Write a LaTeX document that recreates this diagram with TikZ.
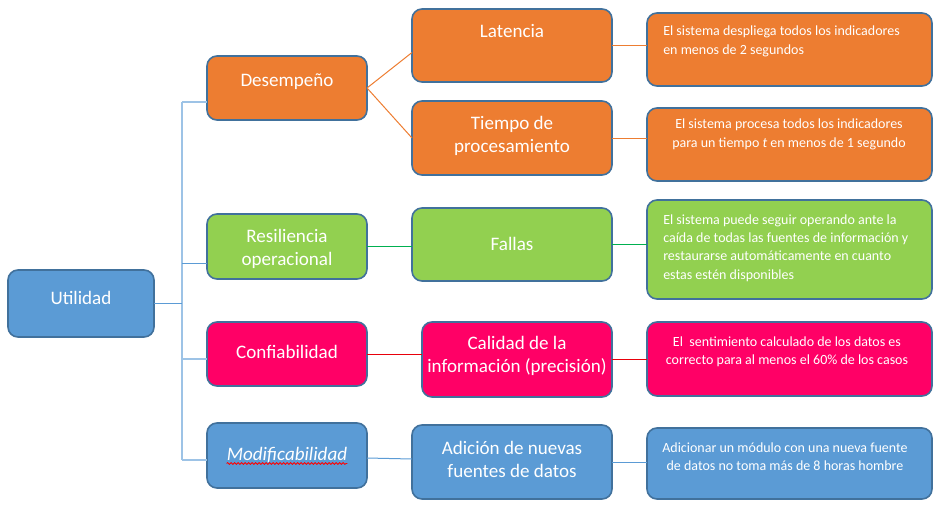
\documentclass[tikz,border=0pt]{standalone}
\usepackage{fontspec}
\setmainfont{Carlito}
\usetikzlibrary{calc,decorations.pathmorphing}
\def\px{0.75pt}
\newcommand\lblfont{\fontsize{14.3pt}{17.3pt}\selectfont}
\newcommand\smlfont{\fontsize{10.5pt}{13.8pt}\selectfont}
\definecolor{orng}{HTML}{ED7D31}
\definecolor{grn}{HTML}{92D050}
\definecolor{pnk}{HTML}{FF0066}
\definecolor{blu}{HTML}{5B9BD5}
\definecolor{bordc}{HTML}{41719C}
\definecolor{trunkc}{HTML}{9DC3E6}
\definecolor{lgreen}{HTML}{00B050}
\definecolor{lred}{HTML}{E8000B}
\tikzset{
  box/.style={draw=bordc, line width=1.6*\px, rounded corners=10*\px, inner sep=0pt, outer sep=0pt},
  lbl/.style={text=white, font=\lblfont, align=center, inner sep=0pt},
  sml/.style={text=white, font=\smlfont, inner sep=0pt},
  trunk/.style={draw=trunkc, line width=2*\px},
  trunkd/.style={draw=blu, line width=1.3*\px},
  conn/.style={line width=1*\px},
  wavy/.style={draw=red, line width=0.8*\px, decorate, decoration={snake, amplitude=0.9*\px, segment length=3.5*\px}}
}
\begin{document}
\begin{tikzpicture}[x=0.75pt,y=-0.75pt]
\useasboundingbox (0,0) rectangle (949,521);
% level 0
\node[box, fill=blu, minimum width=146*\px, minimum height=67*\px] (ut) at (81,303.5) {};
% level 1
\node[box, fill=orng, minimum width=160*\px, minimum height=64*\px] (des) at (287,88) {};
\node[box, fill=grn, minimum width=160*\px, minimum height=65*\px] (res) at (287,246.5) {};
\node[box, fill=pnk, minimum width=160*\px, minimum height=64*\px] (conf) at (287,354) {};
\node[box, fill=blu, minimum width=160*\px, minimum height=65*\px] (mod) at (287,455.5) {};
% level 2
\node[box, fill=orng, minimum width=200*\px, minimum height=73*\px] (lat) at (512,45.5) {};
\node[box, fill=orng, minimum width=200*\px, minimum height=74*\px] (tie) at (512,138) {};
\node[box, fill=grn, minimum width=200*\px, minimum height=73*\px] (fal) at (512,244.5) {};
\node[box, fill=pnk, minimum width=190*\px, minimum height=75*\px] (cal) at (517,359.5) {};
\node[box, fill=blu, minimum width=200*\px, minimum height=74*\px] (adi) at (512,462) {};
% level 3
\node[box, fill=orng, minimum width=285*\px, minimum height=73*\px] (r1) at (789.5,49.5) {};
\node[box, fill=orng, minimum width=285*\px, minimum height=73*\px] (r2) at (789.5,144.5) {};
\node[box, fill=grn, minimum width=285*\px, minimum height=99*\px] (r3) at (789.5,249.5) {};
\node[box, fill=pnk, minimum width=285*\px, minimum height=74*\px] (r4) at (789.5,359) {};
\node[box, fill=blu, minimum width=285*\px, minimum height=71*\px] (r5) at (789.5,463.5) {};
% texts
\node[lbl] (utt) at (81,298) {Utilidad};
\node[lbl] (dest) at (287,82) {Desempeño};
\node[lbl] (rest) at (287,248.5) {Resiliencia\\operacional};
\node[lbl] (conft) at (287,352) {Confiabilidad};
\node[lbl] (modt) at (287,455) {\itshape Modificabilidad};
\node[lbl] (latt) at (512,31) {Latencia};
\node[lbl] (tiet) at (512,135.5) {Tiempo de\\procesamiento};
\node[lbl] (falt) at (512,244) {Fallas};
\node[lbl] (calt) at (517,355.5) {Calidad de la\\información (precisión)};
\node[lbl] (adit) at (512,459.5) {Adición de nuevas\\fuentes de datos};
\node[sml, align=left, anchor=west] (r1t) at (663,41.5) {El sistema despliega todos los indicadores\\en menos de 2 segundos};
\node[sml, align=center] (r2t) at (789,134.5) {El sistema procesa todos los indicadores\\para un tiempo \textit{t} en menos de 1 segundo};
\node[sml, align=left, anchor=west] (r3t) at (663,248) {El sistema puede seguir operando ante la\\caída de todas las fuentes de información y\\restaurarse automáticamente en cuanto\\estas estén disponibles};
\node[sml, align=center] (r4t) at (787,351.5) {El\ \ sentimiento calculado de los datos es\\correcto para al menos el 60\% de los casos};
\node[sml, align=center] (r5t) at (785,456.5) {Adicionar un módulo con una nueva fuente\\de datos no toma más de 8 horas hombre};
\draw[wavy] ($(modt.base west)+(0,3)$) -- ($(modt.base east)+(0,3)$);
% trunk connectors
\coordinate (tx) at (182,0);
\coordinate (desb) at ($(des.west)+(0,14)$);
\coordinate (resb) at ($(res.west)+(0,17)$);
\coordinate (confb) at ($(conf.west)+(0,5)$);
\coordinate (modb) at ($(mod.west)+(0,4.5)$);
\draw[trunk] (desb -| tx) -- (modb -| tx);
\draw[trunk] (desb -| tx) -- (desb);
\draw[trunk] (confb -| tx) -- (confb);
\draw[trunk] (modb -| tx) -- (modb);
\draw[trunkd] (ut.east) -- (ut.east -| tx);
\draw[trunkd] (resb -| tx) -- (resb);
% level connectors
\draw[conn, orng] (des.east) -- ($(lat.west)+(0,7)$);
\draw[conn, orng] (des.east) -- (tie.west);
\draw[conn, orng] (lat.east) -- (lat.east -| r1.west);
\draw[conn, orng] (tie.east) -- (tie.east -| r2.west);
\draw[conn, lgreen] (res.east) -- (res.east -| fal.west);
\draw[conn, lgreen] (fal.east) -- (fal.east -| r3.west);
\draw[conn, lred] (conf.east) -- (conf.east -| cal.west);
\draw[conn, lred] (cal.east) -- (cal.east -| r4.west);
\draw[conn, blu] ($(mod.east)+(0,2.5)$) -- ($(adi.west)+(0,-3)$);
\draw[conn, blu] (adi.east) -- (adi.east -| r5.west);
\end{tikzpicture}
\end{document}
